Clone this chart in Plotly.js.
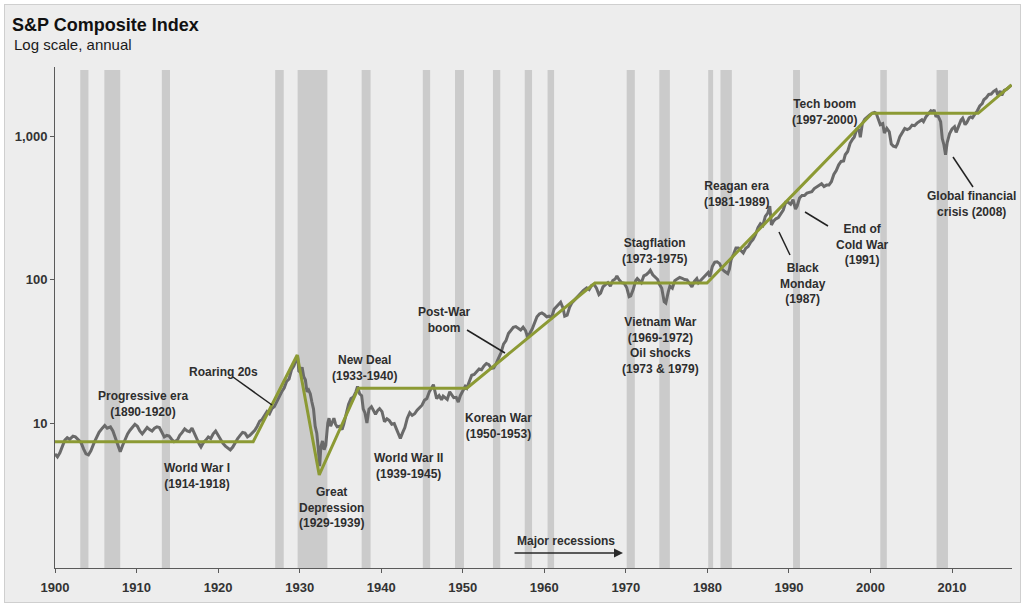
<!DOCTYPE html>
<html>
<head>
<meta charset="utf-8">
<script src="https://cdn.plot.ly/plotly-3.0.1.min.js"></script>
<style>
  html, body { margin: 0; padding: 0; background: #ffffff; }
  #frame { position: absolute; left: 4px; top: 4px; width: 1015px; height: 597px;
           border: 1px solid #cfcfcf; background: #ededed; }
  #chart { position: absolute; left: 0; top: 0; width: 1024px; height: 607px; }
</style>
</head>
<body>
<div id="frame"></div>
<div id="chart"></div>
<script>
// ---- Data ----
const years = [
  1900.0,1900.3,1900.6,1900.9,1901.2,1901.5,1901.8,1902.2,1902.5,1902.9,
  1903.2,1903.5,1903.8,1904.1,1904.4,1904.8,1905.1,1905.4,1905.8,1906.1,
  1906.4,1906.8,1907.1,1907.4,1907.8,1908.0,1908.3,1908.6,1908.9,1909.2,
  1909.5,1909.8,1910.1,1910.4,1910.7,1911.0,1911.3,1911.6,1911.9,1912.2,
  1912.5,1912.8,1913.1,1913.4,1913.7,1914.0,1914.3,1914.6,1915.0,1915.3,
  1915.6,1915.9,1916.2,1916.5,1916.8,1917.1,1917.4,1917.7,1917.9,1918.2,
  1918.5,1918.8,1919.1,1919.4,1919.7,1920.0,1920.3,1920.6,1920.9,1921.2,
  1921.5,1921.8,1922.1,1922.4,1922.7,1923.0,1923.3,1923.6,1923.9,1924.2,
  1924.5,1924.8,1925.1,1925.4,1925.7,1926.0,1926.3,1926.6,1926.9,1927.2,
  1927.5,1927.8,1928.1,1928.4,1928.7,1929.0,1929.3,1929.6,1929.75,1929.9,
  1930.1,1930.3,1930.5,1930.7,1930.9,1931.1,1931.3,1931.5,1931.7,1931.9,
  1932.1,1932.3,1932.45,1932.6,1932.8,1933.0,1933.2,1933.45,1933.6,1933.8,
  1934.0,1934.2,1934.4,1934.6,1934.9,1935.2,1935.4,1935.7,1936.0,1936.3,
  1936.6,1936.9,1937.1,1937.35,1937.6,1937.8,1938.0,1938.25,1938.5,1938.8,
  1939.0,1939.3,1939.6,1939.8,1940.1,1940.4,1940.7,1941.0,1941.3,1941.6,
  1941.9,1942.2,1942.35,1942.6,1942.9,1943.2,1943.5,1943.8,1944.1,1944.4,
  1944.7,1945.0,1945.3,1945.6,1945.9,1946.2,1946.4,1946.6,1946.8,1947.1,
  1947.4,1947.6,1947.9,1948.1,1948.4,1948.6,1948.9,1949.2,1949.45,1949.7,
  1950.0,1950.3,1950.5,1950.8,1951.1,1951.4,1951.7,1952.0,1952.3,1952.6,
  1952.9,1953.2,1953.5,1953.8,1954.1,1954.4,1954.7,1955.0,1955.3,1955.6,
  1955.9,1956.2,1956.5,1956.8,1957.1,1957.4,1957.7,1957.9,1958.2,1958.5,
  1958.8,1959.1,1959.4,1959.7,1960.0,1960.3,1960.6,1960.9,1961.2,1961.5,
  1961.8,1962.0,1962.3,1962.5,1962.8,1963.1,1963.4,1963.7,1964.0,1964.4,
  1964.8,1965.2,1965.5,1965.8,1966.1,1966.4,1966.7,1966.9,1967.2,1967.5,
  1967.8,1968.1,1968.4,1968.7,1968.9,1969.2,1969.5,1969.8,1970.1,1970.4,
  1970.6,1970.9,1971.2,1971.4,1971.7,1971.9,1972.2,1972.5,1972.8,1973.0,
  1973.3,1973.6,1973.9,1974.1,1974.4,1974.7,1974.9,1975.2,1975.4,1975.7,
  1976.0,1976.3,1976.6,1976.9,1977.2,1977.5,1977.8,1978.1,1978.4,1978.7,
  1978.9,1979.2,1979.5,1979.8,1980.1,1980.3,1980.6,1980.9,1981.2,1981.5,
  1981.8,1982.1,1982.5,1982.7,1982.9,1983.2,1983.5,1983.8,1984.1,1984.4,
  1984.7,1985.0,1985.3,1985.6,1985.9,1986.2,1986.5,1986.8,1987.1,1987.4,
  1987.65,1987.85,1988.1,1988.4,1988.7,1989.0,1989.3,1989.6,1989.9,1990.2,
  1990.5,1990.8,1991.0,1991.3,1991.6,1991.9,1992.2,1992.5,1992.8,1993.1,
  1993.4,1993.7,1994.0,1994.3,1994.6,1994.9,1995.2,1995.5,1995.8,1996.1,
  1996.4,1996.7,1996.9,1997.2,1997.5,1997.8,1998.0,1998.3,1998.6,1998.75,
  1999.0,1999.3,1999.6,1999.9,2000.2,2000.5,2000.7,2000.9,2001.2,2001.5,
  2001.7,2002.0,2002.3,2002.55,2002.8,2003.1,2003.3,2003.6,2003.9,2004.2,
  2004.5,2004.8,2005.1,2005.4,2005.7,2006.0,2006.3,2006.5,2006.8,2007.1,
  2007.4,2007.6,2007.8,2008.0,2008.3,2008.6,2008.8,2009.0,2009.2,2009.4,
  2009.7,2010.0,2010.3,2010.5,2010.8,2011.1,2011.3,2011.6,2011.8,2012.1,
  2012.3,2012.5,2012.8,2013.1,2013.4,2013.7,2013.9,2014.2,2014.5,2014.8,
  2015.1,2015.4,2015.6,2015.9,2016.1,2016.4,2016.7,2016.9,2017.1,2017.3
];
const spIndex = [
  6.1,5.8,6.2,7.0,7.6,7.9,7.7,8.1,8.0,7.6,
  7.3,6.6,6.1,6.0,6.4,7.3,7.9,8.6,9.2,9.6,
  9.2,9.4,8.8,7.8,6.6,6.3,7.0,7.8,8.4,8.9,
  9.4,9.8,9.5,8.8,8.4,8.9,9.3,9.0,8.8,9.2,
  9.4,9.3,8.7,8.0,8.2,8.1,7.7,7.4,7.6,8.2,
  8.6,9.1,8.8,8.7,9.2,8.4,7.8,7.1,6.8,7.3,
  7.6,8.0,7.8,8.4,8.8,8.2,7.6,7.2,6.9,6.7,
  6.5,6.8,7.3,7.8,8.2,8.6,8.5,8.0,8.2,8.5,
  8.9,9.5,10.3,10.6,11.3,12.0,11.6,12.6,13.0,14.2,
  15.2,16.5,17.5,19.5,20.3,23.5,25.0,28.5,29.5,23.0,
  22.5,24.5,21.0,20.0,16.5,17.0,16.0,14.0,12.5,9.5,
  8.5,6.5,5.0,6.8,7.5,6.5,7.0,10.0,10.8,9.5,
  10.3,10.8,9.8,9.4,9.5,9.0,9.8,11.5,13.5,14.8,
  15.2,16.5,18.0,16.0,15.5,12.5,11.8,10.0,12.5,13.0,
  12.3,11.5,12.3,12.6,12.0,10.2,10.7,10.4,9.8,9.9,
  9.0,8.3,7.8,8.5,9.3,10.8,11.8,11.3,11.6,12.3,
  12.7,13.3,14.4,14.8,16.5,17.8,18.5,16.5,14.8,15.5,
  14.5,15.4,15.0,14.6,16.5,15.9,15.0,15.1,14.0,15.5,
  16.8,18.0,17.5,19.5,21.5,21.8,23.0,23.8,23.5,25.0,
  26.0,25.5,24.0,24.2,26.0,28.5,31.0,35.5,37.5,42.0,
  44.0,46.5,47.0,45.5,44.5,46.5,44.0,40.5,42.0,45.0,
  50.0,55.0,57.5,58.5,57.0,55.0,55.5,54.5,62.0,65.0,
  68.0,69.5,63.0,55.5,56.5,64.0,69.0,72.0,76.0,79.5,
  84.0,87.5,85.0,91.0,92.5,87.0,78.5,80.5,89.0,92.0,
  95.0,90.0,98.5,101.0,106.0,99.0,95.0,94.0,88.0,76.0,
  77.0,85.0,98.0,101.5,98.0,95.0,106.0,108.0,112.0,116.0,
  108.0,104.5,100.0,93.0,87.0,70.0,68.5,82.0,90.0,87.0,
  98.0,101.0,103.5,102.0,100.0,99.5,94.0,89.0,97.0,101.5,
  95.0,99.0,102.0,107.5,112.0,104.5,123.0,132.0,133.0,129.0,
  118.0,114.0,110.0,118.0,137.0,150.0,166.0,166.0,160.0,153.0,
  165.0,170.0,182.0,190.0,205.0,230.0,245.0,238.0,275.0,290.0,
  325.0,240.0,255.0,265.0,270.0,285.0,305.0,345.0,345.0,335.0,
  360.0,310.0,325.0,370.0,385.0,385.0,400.0,405.0,410.0,430.0,
  440.0,450.0,465.0,445.0,455.0,455.0,480.0,540.0,575.0,630.0,
  665.0,670.0,740.0,780.0,890.0,950.0,980.0,1110.0,1100.0,980.0,
  1220.0,1310.0,1360.0,1400.0,1440.0,1460.0,1440.0,1330.0,1200.0,1220.0,
  1050.0,1130.0,1070.0,880.0,850.0,840.0,880.0,990.0,1060.0,1130.0,
  1110.0,1130.0,1190.0,1180.0,1230.0,1270.0,1300.0,1260.0,1360.0,1430.0,
  1500.0,1470.0,1520.0,1380.0,1370.0,1260.0,960.0,870.0,740.0,900.0,
  1040.0,1120.0,1160.0,1060.0,1170.0,1290.0,1330.0,1200.0,1240.0,1340.0,
  1360.0,1340.0,1420.0,1500.0,1620.0,1680.0,1790.0,1850.0,1950.0,1960.0,
  2050.0,2100.0,1930.0,2060.0,1920.0,2080.0,2120.0,2180.0,2230.0,2270.0
];

const trendYears = [1900, 1924.3, 1929.7, 1932.4, 1937.2, 1950.5, 1966.2, 1979.95, 2000.2, 2013.2, 2017.3];
const trendVals  = [7.4, 7.4, 29.8, 4.35, 17.5, 17.5, 94.5, 94.5, 1440, 1440, 2270];

const recStart = [1903.1, 1906.05, 1913.1, 1927.0, 1929.75, 1937.6, 1945.1, 1949.05, 1953.7, 1957.6, 1960.4, 1970.1, 1974.1, 1980.1, 1981.6, 1990.5, 2001.2, 2008.1];
const recEnd   = [1904.1, 1908.0, 1914.1, 1928.05, 1933.4, 1938.7, 1946.0, 1950.15, 1954.6, 1958.5, 1961.2, 1971.1, 1975.4, 1980.7, 1983.0, 1991.35, 2002.0, 2009.5];

const xTickVals = [1900, 1910, 1920, 1930, 1940, 1950, 1960, 1970, 1980, 1990, 2000, 2010];
const yTickVals = [10, 100, 1000];
const yTickText = ['10', '100', '1,000'];

// ---- Layout helpers (pixel -> paper) ----
const L = 55, R = 12, T = 67, B = 39, W = 1024, H = 607;
const pw = W - L - R, ph = H - T - B;
const px = x => (x - L) / pw;
const py = y => (H - B - y) / ph;

const FONT = 'Liberation Sans, Arial, Helvetica, sans-serif';
const TXT = '#2e2e2e';

const shapes = recStart.map((s, i) => ({
  type: 'rect', xref: 'x', yref: 'paper', x0: s, x1: recEnd[i], y0: 0, y1: py(70),
  fillcolor: '#cbcbcb', line: {width: 0}, layer: 'below'
}));

function pointer(x0, y0, x1, y1) {
  return {type: 'line', xref: 'paper', yref: 'paper', x0: px(x0), y0: py(y0), x1: px(x1), y1: py(y1),
          line: {color: '#222222', width: 1.5}};
}
shapes.push(pointer(233, 377, 272, 405));
shapes.push(pointer(467, 330, 505, 353));
shapes.push(pointer(779, 232, 790, 255));
shapes.push(pointer(805, 212, 828, 226));
shapes.push(pointer(953, 157, 973, 187));

function label(text, x, y) {
  return {text: text, xref: 'paper', yref: 'paper', x: px(x), y: py(y), xanchor: 'center', yanchor: 'middle',
          showarrow: false, align: 'center', font: {family: FONT, size: 12, color: TXT, weight: 'bold'}};
}

const annotations = [
  {text: 'Log scale, annual', xref: 'paper', yref: 'paper', x: px(12), y: py(45), xanchor: 'left', yanchor: 'middle',
   showarrow: false, font: {family: FONT, size: 15, color: '#1a1a1a'}},
  label('Progressive era<br>(1890-1920)', 143, 403.5),
  label('Roaring 20s', 223, 372),
  label('World War I<br>(1914-1918)', 197, 475.5),
  label('Great<br>Depression<br>(1929-1939)', 331, 507),
  label('New Deal<br>(1933-1940)', 364, 367.5),
  label('World War II<br>(1939-1945)', 408, 466),
  label('Post-War<br>boom', 444, 320),
  label('Korean War<br>(1950-1953)', 498, 426),
  label('Stagflation<br>(1973-1975)', 654, 250.5),
  label('Vietnam War<br>(1969-1972)<br>Oil shocks<br>(1973 & 1979)', 660, 345.5),
  label('Reagan era<br>(1981-1989)', 736, 193.5),
  label('Black<br>Monday<br>(1987)', 803, 283),
  label('End of<br>Cold War<br>(1991)', 862, 244),
  label('Tech boom<br>(1997-2000)', 824, 111.5),
  label('Global financial<br>crisis (2008)', 971, 204),
  label('Major recessions', 566, 541),
  {text: '', xref: 'paper', yref: 'paper', x: px(623), y: py(553), ax: -110, ay: 0, axref: 'pixel', ayref: 'pixel',
   showarrow: true, arrowhead: 2, arrowsize: 1.2, arrowwidth: 1.5, arrowcolor: '#2a2a2a'}
];

const traces = [
  {x: years, y: spIndex, type: 'scatter', mode: 'lines', line: {color: '#6a6a6a', width: 3}, hoverinfo: 'skip'},
  {x: trendYears, y: trendVals, type: 'scatter', mode: 'lines', line: {color: '#8c9a34', width: 3}, hoverinfo: 'skip'}
];

const layout = {
  width: W, height: H,
  margin: {l: L, r: R, t: T, b: B},
  paper_bgcolor: 'rgba(0,0,0,0)', plot_bgcolor: 'rgba(0,0,0,0)',
  showlegend: false,
  title: {text: 'S&P Composite Index', xref: 'container', yref: 'container', x: 12 / W, xanchor: 'left',
          y: 1 - 25 / H, yanchor: 'middle', font: {family: FONT, size: 18, color: '#111111', weight: 'bold'}},
  xaxis: {range: [1900, 2017.35], tickvals: xTickVals, showgrid: false, zeroline: false,
          showline: true, linecolor: '#5a5a5a', linewidth: 1, ticks: 'outside', ticklen: 4, tickcolor: '#5a5a5a',
          ticklabelstandoff: 3,
          tickfont: {family: FONT, size: 13, color: '#333333', weight: 'bold'}},
  yaxis: {type: 'log', range: [-0.0105, 3.481], tickvals: yTickVals, ticktext: yTickText, showgrid: false, zeroline: false,
          showline: true, linecolor: '#5a5a5a', linewidth: 1, ticks: 'outside', ticklen: 4, tickcolor: '#5a5a5a',
          tickfont: {family: FONT, size: 13, color: '#333333', weight: 'bold'}},
  shapes: shapes,
  annotations: annotations
};

Plotly.newPlot('chart', traces, layout, {displayModeBar: false, staticPlot: true});
</script>
</body>
</html>
